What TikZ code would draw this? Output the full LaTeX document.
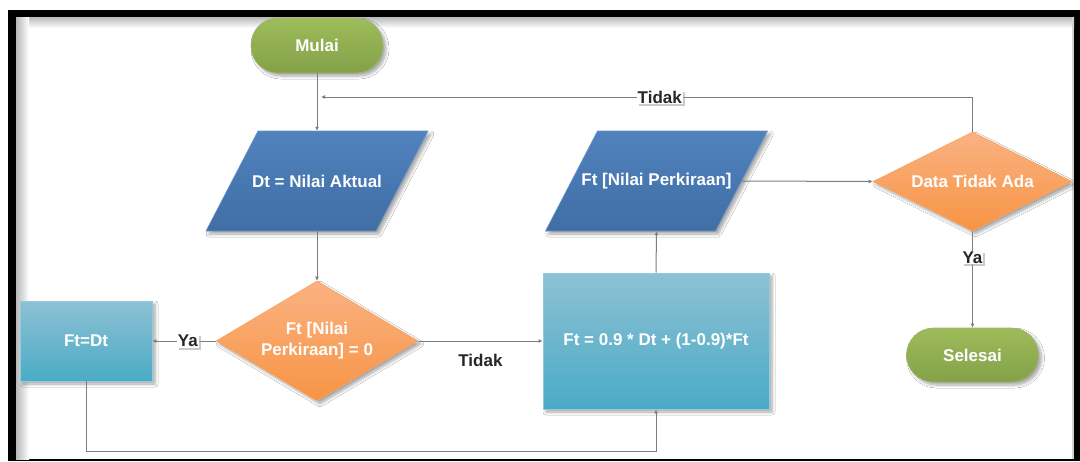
\documentclass[tikz,border=0pt]{standalone}
\usepackage{fontspec}
\setmainfont{Liberation Sans}
\usetikzlibrary{shapes.geometric,arrows.meta,shadows,shadows.blur,calc}

\definecolor{termtop}{RGB}{157,188,90}
\definecolor{termbot}{RGB}{132,161,73}
\definecolor{iotop}{RGB}{80,130,190}
\definecolor{iobot}{RGB}{64,110,164}
\definecolor{dectop}{RGB}{250,178,130}
\definecolor{decbot}{RGB}{247,148,68}
\definecolor{proctop}{RGB}{142,193,212}
\definecolor{procbot}{RGB}{74,171,198}
\definecolor{procedge}{RGB}{96,182,206}
\definecolor{linegray}{RGB}{125,125,125}
\definecolor{labeltext}{RGB}{38,38,38}

\tikzset{
  txt/.style={font=\bfseries\fontsize{17}{21}\selectfont, text=white, align=center},
  softshadow/.style={blur shadow={shadow xshift=3pt, shadow yshift=-3pt,
      shadow blur radius=3pt, shadow blur steps=6, shadow opacity=35}},
  term/.style={txt, rectangle, rounded corners=27pt, minimum width=132pt,
      minimum height=55pt, top color=termtop, bottom color=termbot,
      draw=termbot!80!white, line width=0.6pt, softshadow},
  proc/.style={txt, rectangle, top color=proctop, bottom color=procbot,
      draw=procedge!70!white, line width=0.8pt, softshadow},
  dec/.style={txt, diamond, inner sep=0pt, top color=dectop, bottom color=decbot,
      draw=decbot!85!white, line width=0.6pt, softshadow},
  io/.style={txt, rectangle, minimum width=170pt, minimum height=100pt, inner sep=0pt},
  iofill/.style={top color=iotop, bottom color=iobot, draw=iotop!85!white,
      line width=0.6pt, softshadow},
  conn/.style={draw=linegray, line width=1pt, -{Latex[length=4pt,width=4pt]}},
  lbl/.style={font=\bfseries\fontsize{17}{21}\selectfont, text=labeltext,
      fill=white, inner sep=0.8pt,
      drop shadow={shadow xshift=2pt, shadow yshift=-2pt, fill=black!35, opacity=0.6}},
  plainlbl/.style={font=\bfseries\fontsize{17}{21}\selectfont, text=labeltext, inner sep=0pt}
}

\begin{document}
\begin{tikzpicture}[x=1pt, y=-1pt]
\useasboundingbox (0,0) rectangle (1080,461);

% page and framed panel
\fill[white] (0,0) rectangle (1080,461);
\fill[black] (8,10) rectangle (1080,461);
\fill[white] (16,17) rectangle (1074,459);
\shade[top color=gray!55, bottom color=white] (16,17) rectangle (1074,28);
\shade[left color=gray!55, right color=white] (16,17) rectangle (29,459);
\fill[gray!35] (1072,17) rectangle (1074,459);

% input/output parallelograms (filled first, text nodes placed on top)
\coordinate (dtc) at (317,181);
\coordinate (ftpc) at (656.5,181);
\foreach \c in {dtc,ftpc}{
  \path[iofill] ($(\c)+(-59,-50)$) -- ($(\c)+(111,-50)$)
     -- ($(\c)+(59,50)$) -- ($(\c)+(-111,50)$) -- cycle;
}

% shapes
\node[term] (start) at (317,45.5) {Mulai};
\node[io] (dt) at (dtc) {Dt = Nilai Aktual};
\node[dec, minimum width=202pt, minimum height=120pt, aspect=1.68] (d1) at (317,341)
  {Ft [Nilai\\Perkiraan] = 0};
\node[proc, minimum width=132pt, minimum height=80pt] (ftdt) at (86,341) {Ft=Dt};
\node[proc, minimum width=226pt, minimum height=136pt] (big) at (656,341)
  {Ft = 0.9 * Dt + (1-0.9)*Ft};
\node[io] (ftp) at (ftpc) {Ft [Nilai Perkiraan]};
\node[dec, minimum width=199pt, minimum height=99pt, aspect=2] (d2) at (972.5,181.5)
  {Data Tidak Ada};
\node[term, minimum height=54pt] (sel) at (972.5,355) {Selesai};

\coordinate (back) at (321,97);

% connectors
\draw[conn] (start.south) -- (dt.north);
\draw[conn] (dt.south) -- (d1.north);
\draw[conn] (d1.west) -- node[lbl, pos=0.44] {Ya} (ftdt.east);
\draw[conn] (d1.east) -- node[plainlbl, midway, yshift=-19pt] {Tidak} (big.west);
\draw[conn] (ftdt.south) -- ++(0,70) -| (big.south);
\draw[conn] (big.north) -- (ftp.south);
\draw[conn] (ftp.east) -- (d2.west);
\draw[conn] (d2.north) |- node[lbl, pos=0.74] {Tidak} (back);
\draw[conn] (d2.south) -- node[lbl, pos=0.27] {Ya} (sel.north);
\end{tikzpicture}
\end{document}
